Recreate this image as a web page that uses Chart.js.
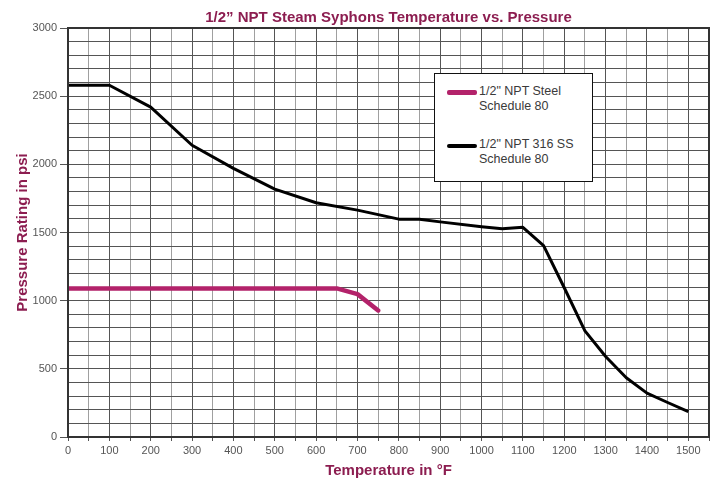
<!DOCTYPE html>
<html>
<head>
<meta charset="utf-8">
<script src="https://cdn.jsdelivr.net/npm/chart.js@4"></script>
<style>
html,body{margin:0;padding:0;background:#fff;}
#wrap{position:relative;width:712px;height:480px;}
#legend{position:absolute;left:434px;top:73px;width:157px;height:107px;border:1.5px solid #111;background:#fff;
 font-family:"Liberation Sans",Arial,sans-serif;font-size:12.5px;color:#3a3a3a;line-height:15px;}
.item{position:absolute;left:12px;}
.sw{position:absolute;left:0;top:6px;width:30px;height:5px;border-radius:2px;}
.txt{position:absolute;left:32px;top:0;white-space:nowrap;}
</style>
</head>
<body>
<div id="wrap">
<canvas id="c" width="712" height="480"></canvas>
<div id="legend">
 <div class="item" style="top:10px"><div class="sw" style="background:#b3226a"></div><div class="txt">1/2" NPT Steel<br>Schedule 80</div></div>
 <div class="item" style="top:63px"><div class="sw" style="background:#000;height:4px;top:7px"></div><div class="txt">1/2" NPT 316 SS<br>Schedule 80</div></div>
</div>
</div>
<script>
const titleText = '1/2\u201D NPT Steam Syphons Temperature vs. Pressure';
const steelTemps = [0, 650, 700, 750];
const steelPsi = [1090, 1090, 1048, 928];
const ssTemps = [0, 100, 200, 300, 400, 500, 600, 700, 800, 850, 900, 1000, 1050, 1100, 1150, 1200, 1250, 1300, 1350, 1400, 1450, 1500];
const ssPsi = [2580, 2580, 2420, 2140, 1970, 1818, 1718, 1664, 1598, 1598, 1578, 1542, 1527, 1538, 1404, 1095, 778, 590, 435, 322, 253, 186];
const xTickLabels = [0,100,200,300,400,500,600,700,800,900,1000,1100,1200,1300,1400,1500];
const yTickLabels = [0,500,1000,1500,2000,2500,3000];

const maroon = '#8c1d50';
const narrow = '"Liberation Sans Narrow","Arial Narrow","Liberation Sans",Arial,sans-serif';

const toPts = (xs, ys) => xs.map((x, i) => ({x, y: ys[i]}));

const gridCol = (v) => (Math.round(v) % 100 === 0 ? '#555' : '#a0a0a0');

new Chart(document.getElementById('c'), {
  type: 'line',
  data: {
    datasets: [
      {label: '1/2" NPT Steel Schedule 80', data: toPts(steelTemps, steelPsi), borderColor: '#b3226a', borderWidth: 4.5, pointRadius: 0, tension: 0, borderCapStyle: 'round', borderJoinStyle: 'round'},
      {label: '1/2" NPT 316 SS Schedule 80', data: toPts(ssTemps, ssPsi), borderColor: '#000', borderWidth: 3, pointRadius: 0, tension: 0, borderJoinStyle: 'round'}
    ]
  },
  options: {
    responsive: false,
    animation: false,
    layout: {padding: {left: 0, right: 3, top: 0, bottom: 0}},
    plugins: {
      legend: {display: false},
      tooltip: {enabled: false},
      title: {display: true, fullSize: false, text: titleText, color: maroon, font: {family: narrow, size: 15, weight: 'bold'}, padding: {top: 9, bottom: 1}}
    },
    scales: {
      x: {
        type: 'linear', min: 0, max: 1550,
        afterFit: s => { s.height = 43; },
        afterBuildTicks: s => { const t = []; for (let v = 0; v <= 1550; v += 50) t.push({value: v}); s.ticks = t; },
        ticks: {
          color: '#555', font: {family: '"Liberation Sans",Arial,sans-serif', size: 11}, padding: 3, maxRotation: 0, autoSkip: false,
          callback: v => (xTickLabels.includes(v) ? String(v) : '')
        },
        grid: {color: c => gridCol(c.tick ? c.tick.value : 0), lineWidth: 1, tickLength: 4, tickColor: '#555'},
        border: {color: '#333', width: 2},
        title: {display: true, text: 'Temperature in \u00B0F', color: maroon, font: {family: narrow, size: 15, weight: 'bold'}, padding: {top: 2, bottom: 0}}
      },
      y: {
        min: 0, max: 3000,
        afterFit: s => { s.width = 68; },
        afterBuildTicks: s => { const t = []; for (let v = 0; v <= 3000; v += 100) t.push({value: v}); s.ticks = t; },
        ticks: {
          color: '#555', font: {family: '"Liberation Sans",Arial,sans-serif', size: 11}, padding: 3, autoSkip: false,
          callback: v => (yTickLabels.includes(v) ? String(v) : '')
        },
        grid: {color: c => gridCol(c.tick ? c.tick.value + 100 : 0), lineWidth: 1, tickLength: 8, tickColor: c => (c.tick && c.tick.value % 500 === 0 ? '#555' : 'rgba(0,0,0,0)')},
        border: {color: '#333', width: 2},
        title: {display: true, text: 'Pressure Rating in psi', color: maroon, font: {family: narrow, size: 15, weight: 'bold'}, padding: {top: 14, bottom: 2}}
      }
    }
  },
  plugins: [{
    id: 'frame',
    afterDatasetsDraw(chart) {
      const {ctx, chartArea: a} = chart;
      ctx.save();
      ctx.strokeStyle = '#333';
      ctx.lineWidth = 2;
      ctx.strokeRect(a.left, a.top, a.right - a.left, a.bottom - a.top);
      ctx.restore();
    }
  }]
});
</script>
</body>
</html>
